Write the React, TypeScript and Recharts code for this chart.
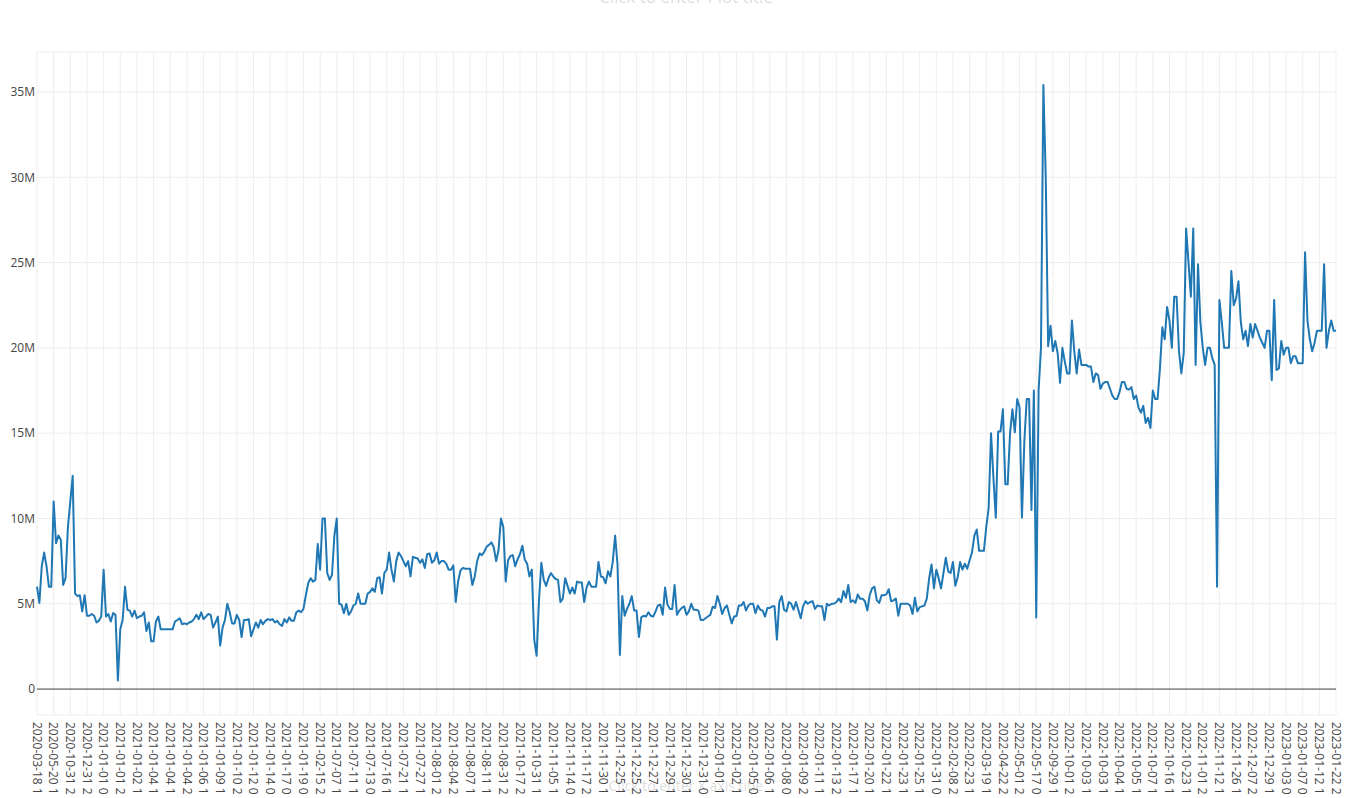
import { CartesianGrid, Line, LineChart, ReferenceLine, XAxis, YAxis } from 'recharts';

// category labels shown every STEP points (cut off by the bottom of the page)
const tickLabels = [
  '2020-03-18 1', '2020-05-20 1', '2020-10-31 2', '2020-12-31 2', '2021-01-01 0', '2021-01-01 2',
  '2021-01-02 1', '2021-01-04 1', '2021-01-04 1', '2021-01-04 2', '2021-01-06 1', '2021-01-09 1',
  '2021-01-10 2', '2021-01-12 0', '2021-01-14 0', '2021-01-17 0', '2021-01-19 0', '2021-02-15 2',
  '2021-07-07 1', '2021-07-11 1', '2021-07-13 0', '2021-07-16 1', '2021-07-21 1', '2021-07-27 1',
  '2021-08-01 2', '2021-08-04 2', '2021-08-07 1', '2021-08-11 1', '2021-08-31 2', '2021-10-17 2',
  '2021-10-31 1', '2021-11-05 1', '2021-11-14 0', '2021-11-17 2', '2021-11-30 1', '2021-12-25 1',
  '2021-12-25 2', '2021-12-27 1', '2021-12-29 1', '2021-12-30 1', '2021-12-31 0', '2022-01-01 1',
  '2022-01-02 1', '2022-01-05 0', '2022-01-06 1', '2022-01-08 0', '2022-01-09 2', '2022-01-11 1',
  '2022-01-13 2', '2022-01-17 1', '2022-01-20 1', '2022-01-22 1', '2022-01-23 1', '2022-01-25 1',
  '2022-01-31 0', '2022-02-08 2', '2022-02-23 1', '2022-03-19 1', '2022-04-22 2', '2022-05-01 2',
  '2022-05-17 0', '2022-09-29 1', '2022-10-01 2', '2022-10-03 1', '2022-10-03 1', '2022-10-04 1',
  '2022-10-05 1', '2022-10-07 1', '2022-10-16 1', '2022-10-23 1', '2022-11-01 2', '2022-11-12 1',
  '2022-11-26 1', '2022-12-07 2', '2022-12-29 1', '2023-01-03 0', '2023-01-07 0', '2023-01-12 1',
  '2023-01-22 2',
];
const STEP = 7;

// values in millions
const part1 = [
  6.0, 5.05, 7.2, 8.0, 7.2, 6.0, 6.0, 11.0, 8.55, 9.0,
  8.75, 6.1, 6.5, 9.5, 11.0, 12.5, 5.6, 5.45, 5.5, 4.55,
  5.5, 4.3, 4.3, 4.4, 4.3, 3.9, 4.0, 4.25, 7.0, 4.25,
  4.4, 3.96, 4.45, 4.35, 0.5, 3.5, 4.05, 6.0, 4.65, 4.6,
  4.25, 4.6, 4.15, 4.25, 4.3, 4.5, 3.4, 3.9, 2.8, 2.8,
  3.96, 4.25, 3.5, 3.5, 3.5, 3.5, 3.5, 3.5, 3.96, 4.05,
  4.15, 3.8, 3.85, 3.8, 3.9, 3.96, 4.1, 4.35, 4.1, 4.5,
  4.1, 4.25, 4.4, 4.35, 3.6, 3.9, 4.25, 2.55, 3.6, 4.05,
  5.0, 4.5, 3.85, 3.85, 4.35, 4.05, 3.05, 4.05, 4.05, 4.1,
  3.1, 3.5, 3.9, 3.6, 4.05, 3.8,
];
const part2 = [
  4.0, 4.1, 4.05, 4.1, 3.9, 4.0, 3.8, 3.7, 4.1, 3.9,
  4.2, 4.0, 4.0, 4.5, 4.6, 4.5, 4.7, 5.5, 6.2, 6.5,
  6.3, 6.4, 8.5, 7.0, 10.0, 10.0, 6.8, 6.4, 6.7, 9.0,
  10.0, 5.0, 4.95, 4.45, 5.0, 4.35, 4.55, 4.9, 5.0, 5.6,
  5.0, 5.0, 5.0, 5.6, 5.7, 5.9, 5.7, 6.5, 6.55, 5.6,
  6.8, 7.0, 8.0, 7.0, 6.3, 7.5, 8.0, 7.8, 7.5, 7.2,
  7.5, 6.6, 7.75, 7.7, 7.65, 7.4, 7.6, 7.1, 7.9, 7.95,
  7.4, 7.55, 8.0, 7.35, 7.5, 7.5, 7.35, 7.0, 7.0, 7.25,
  5.1, 6.3, 6.95, 7.1, 7.05, 7.05, 7.05, 6.1, 6.6, 7.5,
  7.95, 7.85, 8.05,
];
const part3 = [
  8.35, 8.45, 8.6, 8.3, 7.5, 8.15, 10.0, 9.5, 6.3, 7.55,
  7.8, 7.85, 7.2, 7.6, 7.9, 8.4, 7.6, 7.35, 6.6, 7.0,
  2.9, 1.95, 5.2, 7.4, 6.4, 6.05, 6.5, 6.8, 6.6, 6.45,
  6.4, 5.1, 5.3, 6.5, 6.05, 5.6, 5.95, 5.6, 6.3, 6.25,
  6.25, 5.1, 5.95, 6.3, 6.0, 6.0, 6.0, 7.45, 6.6, 6.55,
  6.2, 6.9, 6.6, 7.45, 9.0, 7.3, 2.0, 5.45, 4.3, 4.7,
  5.0, 5.45, 4.6, 4.6, 3.05, 4.2, 4.3, 4.25, 4.5, 4.3,
  4.25, 4.55, 4.9, 4.95, 4.35, 5.95, 4.95, 4.7, 4.7, 6.1,
  4.35, 4.6, 4.75, 4.85, 4.35, 4.55, 5.0, 4.65, 4.65, 4.6,
  4.05, 4.05,
];
const part4 = [
  4.15, 4.25, 4.35, 4.83, 4.75, 5.45, 5.0, 4.4, 4.75, 4.9,
  4.35, 3.85, 4.25, 4.28, 4.9, 4.9, 5.1, 4.6, 4.9, 5.0,
  5.0, 4.45, 4.9, 4.65, 4.6, 4.25, 4.75, 4.75, 4.85, 4.85,
  2.9, 5.1, 5.45, 4.65, 4.55, 5.1, 5.0, 4.65, 5.1, 4.65,
  4.15, 4.85, 5.15, 5.0, 5.1, 5.15, 4.7, 4.9, 4.85, 4.85,
  4.05, 5.0, 4.9, 5.0, 5.0, 5.1, 5.3, 5.1, 5.75, 5.35,
  6.1, 5.1, 5.2, 5.05, 5.55, 5.3, 5.3, 5.15, 4.6, 5.5,
  5.9, 6.0, 5.2, 5.05, 5.5, 5.5, 5.55, 5.85, 5.15, 5.2,
  5.3, 4.3, 5.0, 5.0, 5.0, 5.0, 4.9, 4.4, 5.35, 4.55,
  4.8, 4.85, 4.9,
];
const part5 = [
  5.3, 6.5, 7.3, 5.9, 7.0, 6.5, 5.9, 6.8, 7.7, 6.9,
  6.8, 7.45, 6.05, 6.55, 7.45, 7.0, 7.35, 7.05, 7.55, 8.0,
  9.0, 9.35, 8.1, 8.1, 8.1, 9.5, 10.6, 15.0, 12.4, 10.05,
  15.1, 15.1, 16.4, 12.0, 12.0, 15.0, 16.4, 15.05, 17.0, 16.5,
  10.05, 14.5, 17.0, 17.0, 10.5, 17.5, 4.2, 17.5, 20.0, 35.4,
  30.0, 20.1, 21.3, 19.8, 20.4, 19.7, 17.95, 20.0, 19.2, 18.5,
  18.5, 21.6, 19.8, 18.5, 19.9, 19.0, 19.0, 19.0, 18.9, 18.9,
  18.0, 18.5, 18.4, 17.6, 17.9, 18.0, 18.0, 17.6, 17.2, 17.0,
  17.0, 17.4, 18.0, 18.0,
];
const part6 = [
  17.6, 17.55, 17.7, 17.0, 17.2, 16.5, 16.2, 16.6, 15.6, 15.9,
  15.3, 17.5, 17.0, 17.0, 18.8, 21.2, 20.5, 22.4, 21.6, 20.0,
  23.0, 23.0, 19.8, 18.5, 19.7, 27.0, 25.0, 23.0, 27.0, 19.0,
  24.9, 21.5, 20.0, 19.0, 20.0, 20.0, 19.4, 19.0, 6.0, 22.8,
  21.5, 20.0, 20.0, 20.0, 24.5, 22.5, 22.9, 23.9, 21.5, 20.5,
  21.0, 20.1, 21.4, 20.6, 21.4, 21.0, 20.6, 20.3, 20.0, 21.0,
  21.0, 18.1, 22.8, 18.7, 18.8, 20.4, 19.6, 20.0, 20.0, 19.1,
  19.5, 19.5, 19.1, 19.1, 19.1, 25.6, 21.6, 20.5, 19.8, 20.3,
  21.0, 21.0, 21.0, 24.9, 20.0, 21.0, 21.6, 21.0, 21.0,
];

const yTicks = [0, 5, 10, 15, 20, 25, 30, 35];

const values = [...part1, ...part2, ...part3, ...part4, ...part5, ...part6];
const data = values.map((v, i) => ({ i, v }));
const xTicks = tickLabels.map((_, j) => j * STEP);

const FONT = '"Open Sans", sans-serif';
const TEXT = '#444';

function XTick({ x, payload }: any) {
  const label = tickLabels[Math.round(payload.value / STEP)];
  return (
    <text
      transform={`translate(${x},722) rotate(90)`}
      dy="0.36em"
      textAnchor="start"
      fontSize={12}
      fontFamily={FONT}
      fill={TEXT}
    >
      {label}
    </text>
  );
}

function YTick({ y, payload }: any) {
  return (
    <text x={35} y={y} dy="0.36em" textAnchor="end" fontSize={12} fontFamily={FONT} fill={TEXT}>
      {payload.value === 0 ? '0' : `${payload.value}M`}
    </text>
  );
}

export default function App() {
  return (
    <div style={{ position: 'absolute', left: 0, top: 0, width: 1368, height: 798, background: '#fff' }}>
      <LineChart width={1368} height={798} data={data} margin={{ top: 52, right: 32, bottom: 0, left: 0 }}>
        <CartesianGrid stroke="#eee" strokeWidth={1} />
        <XAxis
          dataKey="i"
          type="number"
          domain={[0, values.length - 1]}
          ticks={xTicks}
          interval={0}
          tick={<XTick />}
          axisLine={false}
          tickLine={false}
          height={83}
        />
        <YAxis
          type="number"
          domain={[-1.52, 37.34]}
          ticks={yTicks}
          interval={0}
          allowDataOverflow
          tick={<YTick />}
          axisLine={false}
          tickLine={false}
          width={37}
        />
        <ReferenceLine y={0} stroke="#444" strokeWidth={1} />
        <Line
          type="linear"
          dataKey="v"
          stroke="#1f77b4"
          strokeWidth={2}
          dot={false}
          activeDot={false}
          strokeLinejoin="round"
          isAnimationActive={false}
        />
      </LineChart>
      <svg
        width={1368}
        height={798}
        style={{ position: 'absolute', left: 0, top: 0, pointerEvents: 'none' }}
      >
        <text x={686} y={3} textAnchor="middle" fontSize={17} fontFamily={FONT} fill={TEXT} fillOpacity={0.2}>
          Click to enter Plot title
        </text>
        <text x={686} y={791} textAnchor="middle" fontSize={14} fontFamily={FONT} fill={TEXT} fillOpacity={0.2}>
          Click to enter X axis title
        </text>
      </svg>
    </div>
  );
}
